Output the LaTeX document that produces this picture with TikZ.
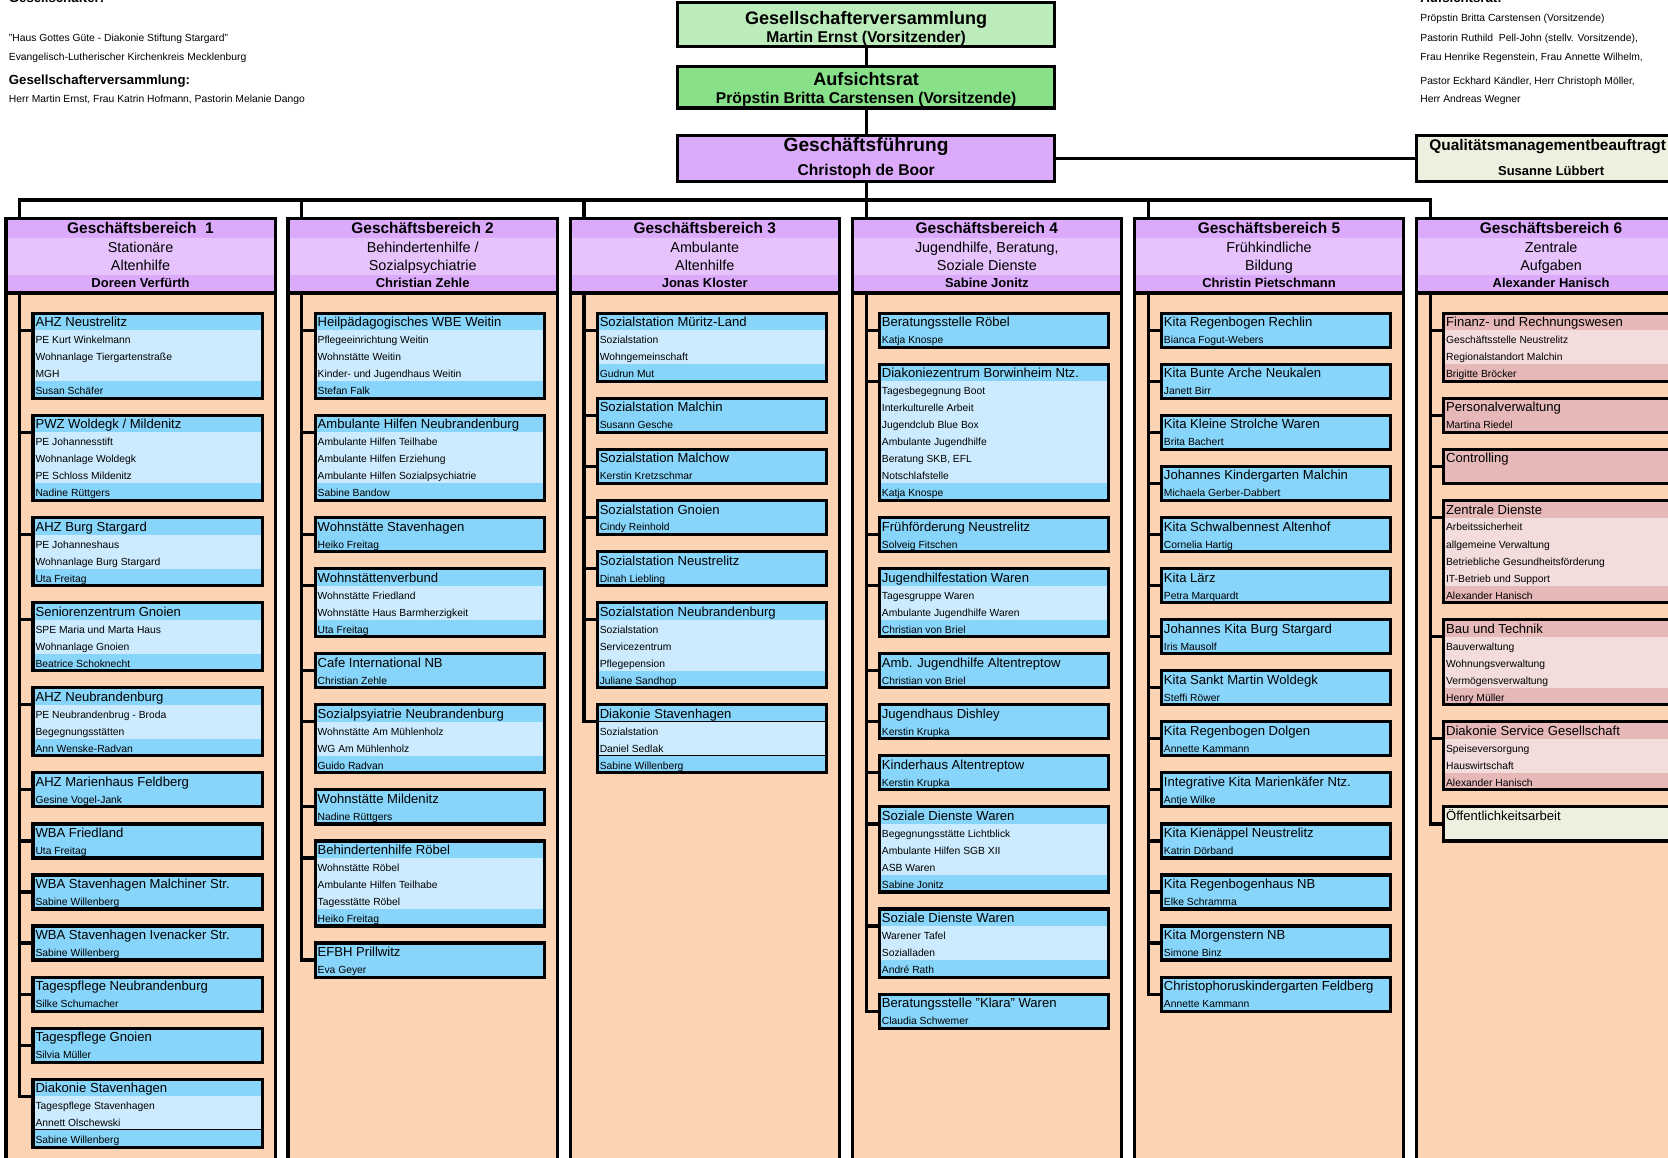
\documentclass[tikz,border=0pt]{standalone}
\usepackage{fontspec}
\setmainfont{Liberation Sans}

\definecolor{gvfill}{HTML}{BCECBC}
\definecolor{arfill}{HTML}{88E088}
\definecolor{gbdark}{HTML}{DCAAFA}
\definecolor{gblight}{HTML}{E6C3FC}
\definecolor{colbg}{HTML}{FCD4B4}
\definecolor{bldark}{HTML}{87D5FA}
\definecolor{bllight}{HTML}{CCEBFE}
\definecolor{pkdark}{HTML}{E6B8B8}
\definecolor{pklight}{HTML}{F2DCDC}
\definecolor{grdark}{HTML}{EBF1DE}
\definecolor{grlight}{HTML}{EBF1DE}

\tikzset{
  wire/.style={line width=3pt},
  sepline/.style={line width=0.8pt},
  box/.style={draw,rectangle,line width=3pt,inner sep=0pt,outer sep=0pt},
  lbl/.style={inner sep=0pt,outer sep=0pt},
  bigtitle/.style={lbl,font=\fontsize{17}{20}\selectfont\bfseries,text height=12.3pt,text depth=1.6pt},
  gftitle/.style={lbl,font=\fontsize{18}{21}\selectfont\bfseries,text height=13pt,text depth=1.7pt},
  bigname/.style={lbl,font=\fontsize{14.7}{17}\selectfont\bfseries,text height=10.6pt,text depth=1.4pt},
  gbtitle/.style={lbl,font=\fontsize{14.5}{17}\selectfont\bfseries,text height=10.5pt,text depth=1.4pt},
  gbline/.style={lbl,font=\fontsize{13.5}{16}\selectfont,text height=9.8pt,text depth=1.3pt},
  gbname/.style={lbl,font=\fontsize{12.2}{14}\selectfont\bfseries,text height=8.8pt,text depth=1.1pt},
  subtitle/.style={lbl,anchor=west,font=\fontsize{12.3}{14}\selectfont,text height=9pt,text depth=1.2pt},
  subrow/.style={lbl,anchor=west,font=\fontsize{9.7}{11}\selectfont,text height=7.2pt,text depth=0.9pt},
  toptxt/.style={lbl,anchor=west,font=\fontsize{9.7}{11}\selectfont,text height=7.2pt,text depth=0.9pt},
  tophead/.style={lbl,anchor=west,font=\fontsize{12.4}{14}\selectfont\bfseries,text height=9pt,text depth=1.2pt}
}

% column header: index, left x, title, line 1, line 2, name
\newcommand{\gbcol}[6]{%
  \fill[colbg] (#2,275.5) rectangle ({#2+253},1100);
  \fill[gbdark] (#2,205.5) rectangle ({#2+253},223.4);
  \fill[gblight] (#2,223.4) rectangle ({#2+253},258.5);
  \fill[gbdark] (#2,258.5) rectangle ({#2+253},275.5);
  \draw[wire] (#2,275.5) -- (#2,1100) ({#2+253},275.5) -- ({#2+253},1100);
  \node[box,minimum width=253pt,minimum height=70pt,anchor=north west] (g#1) at (#2,205.5) {};
  \node[gbtitle] (g#1-t) at ({#2+126.5},215.2) {#3};
  \node[gbline] (g#1-a) at ({#2+126.5},233.4) {#4};
  \node[gbline] (g#1-b) at ({#2+126.5},250) {#5};
  \node[gbname] (g#1-n) at ({#2+126.5},266.6) {#6};
}

% unit box: [colours] name, column x, top y, rows, title, row list
\newcommand{\ubox}[7][bl]{%
  \fill[#1light] ({#3+25.5},{#4}) rectangle ({#3+241},{#4+16*(#5+1)});
  \fill[#1dark] ({#3+25.5},{#4}) rectangle ({#3+241},{#4+16});
  \fill[#1dark] ({#3+25.5},{#4+16*#5}) rectangle ({#3+241},{#4+16*(#5+1)});
  \node[box,minimum width=215.5pt,minimum height=16*(#5+1),anchor=north west] (#2) at ({#3+25.5},{#4}) {};
  \node[subtitle] (#2-t) at ({#3+27.8},{#4+8.8}) {#6};
  \foreach \entry [count=\i] in {#7}
    \node[subrow] (#2-\i) at ({#3+27.8},{#4+9.5+16*\i}) {\entry};
  \coordinate (#2-s) at ({#3+25.5},{#4+16});
  \coordinate (#2-j) at ({#3+13},{#4+16});
  \draw[wire] (#2-s) -- (#2-j);
}

\begin{document}
\begin{tikzpicture}[x=1pt,y=-1pt,line join=miter]
\useasboundingbox (0,0) rectangle (1568,1087.7);
\clip (0,0) rectangle (1568,1087.7);

% owners and board, as text
\node[tophead,anchor=base west] (gs-h) at (8.4,2.3) {Gesellschafter:};
\node[toptxt] (gs-1) at (8.4,36) {"Haus Gottes Güte - Diakonie Stiftung Stargard"};
\node[toptxt] (gs-2) at (8.4,53.9) {Evangelisch-Lutherischer Kirchenkreis Mecklenburg};
\node[tophead] (gv-h) at (8.4,75.8) {Gesellschafterversammlung:};
\node[toptxt] (gv-1) at (8.4,93.4) {Herr Martin Ernst, Frau Katrin Hofmann, Pastorin Melanie Dango};
\node[tophead,anchor=base west] (ar-h) at (1335.2,2.3) {Aufsichtsrat:};
\node[toptxt] (ar-1) at (1335.2,17.2) {Pröpstin Britta Carstensen (Vorsitzende)};
\node[toptxt] (ar-2) at (1335.2,36) {Pastorin Ruthild\ \ Pell-John (stellv. Vorsitzende),};
\node[toptxt] (ar-3) at (1335.2,53.9) {Frau Henrike Regenstein, Frau Annette Wilhelm,};
\node[toptxt] (ar-4) at (1335.2,76.1) {Pastor Eckhard Kändler, Herr Christoph Möller,};
\node[toptxt] (ar-5) at (1335.2,93.3) {Herr Andreas Wegner};

% top of the chart
\node[box,fill=gvfill,minimum width=354.5pt,minimum height=41.4pt] (gv) at (814.2,23.3) {};
\node[bigtitle] (gv-t) at (814.2,17.9) {Gesellschafterversammlung};
\node[bigname] (gv-n) at (814.2,35) {Martin Ernst (Vorsitzender)};
\node[box,fill=arfill,minimum width=354.5pt,minimum height=39pt] (ar) at (814.2,82) {};
\node[bigtitle] (ar-t) at (814.2,74.6) {Aufsichtsrat};
\node[bigname] (ar-n) at (814.2,93) {Pröpstin Britta Carstensen (Vorsitzende)};
\node[box,fill=gbdark,minimum width=354.5pt,minimum height=43.5pt] (gf) at (814.2,148.8) {};
\node[gftitle] (gf-t) at (814.2,137.2) {Geschäftsführung};
\node[bigname] (gf-n) at (814.2,160.4) {Christoph de Boor};
\node[box,fill=grdark,minimum width=253pt,minimum height=43.5pt,anchor=west] (qm) at (1331.6,148.8) {};
\node[gbtitle,anchor=west] (qm-t) at (1343.7,137) {Qualitätsmanagementbeauftragt};
\node[gbname] (qm-n) at (1458.1,161.4) {Susanne Lübbert};
\draw[wire] (gv.south) -- (ar.north) (ar.south) -- (gf.north) (gf.east) -- (qm.west);

\coordinate (t1) at (18.6,188);
\coordinate (t2) at (283.8,188);
\coordinate (t3) at (549,188);
\coordinate (t4) at (814.2,188);
\coordinate (t5) at (1079.4,188);
\coordinate (t6) at (1344.6,188);

% Geschaeftsbereich 1
\gbcol{1}{5.6}{Geschäftsbereich~~1}{Stationäre}{Altenhilfe}{Doreen Verfürth}
\ubox{a1}{5.6}{294.5}{4}{AHZ Neustrelitz}{PE Kurt Winkelmann,Wohnanlage Tiergartenstraße,MGH,Susan Schäfer}
\ubox{a2}{5.6}{390.5}{4}{PWZ Woldegk / Mildenitz}{PE Johannesstift,Wohnanlage Woldegk,PE Schloss Mildenitz,Nadine Rüttgers}
\ubox{a3}{5.6}{486.5}{3}{AHZ Burg Stargard}{PE Johanneshaus,Wohnanlage Burg Stargard,Uta Freitag}
\ubox{a4}{5.6}{566.5}{3}{Seniorenzentrum Gnoien}{SPE Maria und Marta Haus,Wohnanlage Gnoien,Beatrice Schoknecht}
\ubox{a5}{5.6}{646.5}{3}{AHZ Neubrandenburg}{PE Neubrandenbrug - Broda,Begegnungsstätten,Ann Wenske-Radvan}
\ubox{a6}{5.6}{726.5}{1}{AHZ Marienhaus Feldberg}{Gesine Vogel-Jank}
\ubox{a7}{5.6}{774.5}{1}{WBA Friedland}{Uta Freitag}
\ubox{a8}{5.6}{822.5}{1}{WBA Stavenhagen Malchiner Str.}{Sabine Willenberg}
\ubox{a9}{5.6}{870.5}{1}{WBA Stavenhagen Ivenacker Str.}{Sabine Willenberg}
\ubox{a10}{5.6}{918.5}{1}{Tagespflege Neubrandenburg}{Silke Schumacher}
\ubox{a11}{5.6}{966.5}{1}{Tagespflege Gnoien}{Silvia Müller}
\ubox{a12}{5.6}{1014.5}{3}{Diakonie Stavenhagen}{Tagespflege Stavenhagen,Annett Olschewski,Sabine Willenberg}
\draw[sepline] ([yshift=-47pt]a12.north west) -- ([yshift=-47pt]a12.north east);
\draw[wire] (g1.south -| t1) -- (a12-j) -- (a12-s);

% Geschaeftsbereich 2
\gbcol{2}{270.8}{Geschäftsbereich 2}{Behindertenhilfe /}{Sozialpsychiatrie}{Christian Zehle}
\ubox{b1}{270.8}{294.5}{4}{Heilpädagogisches WBE Weitin}{Pflegeeinrichtung Weitin,Wohnstätte Weitin,Kinder- und Jugendhaus Weitin,Stefan Falk}
\ubox{b2}{270.8}{390.5}{4}{Ambulante Hilfen Neubrandenburg}{Ambulante Hilfen Teilhabe,Ambulante Hilfen Erziehung,Ambulante Hilfen Sozialpsychiatrie,Sabine Bandow}
\ubox{b3}{270.8}{486.5}{1}{Wohnstätte Stavenhagen}{Heiko Freitag}
\ubox{b4}{270.8}{534.5}{3}{Wohnstättenverbund}{Wohnstätte Friedland,Wohnstätte Haus Barmherzigkeit,Uta Freitag}
\ubox{b5}{270.8}{614.5}{1}{Cafe International NB}{Christian Zehle}
\ubox{b6}{270.8}{662.5}{3}{Sozialpsyiatrie Neubrandenburg}{Wohnstätte Am Mühlenholz,WG Am Mühlenholz,Guido Radvan}
\ubox{b7}{270.8}{742.5}{1}{Wohnstätte Mildenitz}{Nadine Rüttgers}
\ubox{b8}{270.8}{790.5}{4}{Behindertenhilfe Röbel}{Wohnstätte Röbel,Ambulante Hilfen Teilhabe,Tagesstätte Röbel,Heiko Freitag}
\ubox{b9}{270.8}{886.5}{1}{EFBH Prillwitz}{Eva Geyer}
\draw[wire] (g2.south -| t2) -- (b9-j) -- (b9-s);

% Geschaeftsbereich 3
\gbcol{3}{536}{Geschäftsbereich 3}{Ambulante}{Altenhilfe}{Jonas Kloster}
\ubox{c1}{536}{294.5}{3}{Sozialstation Müritz-Land}{Sozialstation,Wohngemeinschaft,Gudrun Mut}
\ubox{c2}{536}{374.5}{1}{Sozialstation Malchin}{Susann Gesche}
\ubox{c3}{536}{422.5}{1}{Sozialstation Malchow}{Kerstin Kretzschmar}
\ubox{c4}{536}{470.5}{1}{Sozialstation Gnoien}{Cindy Reinhold}
\ubox{c5}{536}{518.5}{1}{Sozialstation Neustrelitz}{Dinah Liebling}
\ubox{c6}{536}{566.5}{4}{Sozialstation Neubrandenburg}{Sozialstation,Servicezentrum,Pflegepension,Juliane Sandhop}
\ubox{c7}{536}{662.5}{3}{Diakonie Stavenhagen}{Sozialstation,Daniel Sedlak,Sabine Willenberg}
\draw[sepline] ([yshift=-16pt]c7.north west) -- ([yshift=-16pt]c7.north east)
  ([yshift=-48pt]c7.north west) -- ([yshift=-48pt]c7.north east);
\draw[wire] (g3.south -| t3) -- (c7-j) -- (c7-s);

% Geschaeftsbereich 4
\gbcol{4}{801.2}{Geschäftsbereich 4}{Jugendhilfe, Beratung,}{Soziale Dienste}{Sabine Jonitz}
\ubox{d1}{801.2}{294.5}{1}{Beratungsstelle Röbel}{Katja Knospe}
\ubox{d2}{801.2}{342.5}{7}{Diakoniezentrum Borwinheim Ntz.}{Tagesbegegnung Boot,Interkulturelle Arbeit,Jugendclub Blue Box,Ambulante Jugendhilfe,{Beratung SKB, EFL},Notschlafstelle,Katja Knospe}
\ubox{d3}{801.2}{486.5}{1}{Frühförderung Neustrelitz}{Solveig Fitschen}
\ubox{d4}{801.2}{534.5}{3}{Jugendhilfestation Waren}{Tagesgruppe Waren,Ambulante Jugendhilfe Waren,Christian von Briel}
\ubox{d5}{801.2}{614.5}{1}{Amb. Jugendhilfe Altentreptow}{Christian von Briel}
\ubox{d6}{801.2}{662.5}{1}{Jugendhaus Dishley}{Kerstin Krupka}
\ubox{d7}{801.2}{710.5}{1}{Kinderhaus Altentreptow}{Kerstin Krupka}
\ubox{d8}{801.2}{758.5}{4}{Soziale Dienste Waren}{Begegnungsstätte Lichtblick,Ambulante Hilfen SGB XII,ASB Waren,Sabine Jonitz}
\ubox{d9}{801.2}{854.5}{3}{Soziale Dienste Waren}{Warener Tafel,Sozialladen,André Rath}
\ubox{d10}{801.2}{934.5}{1}{Beratungsstelle "Klara" Waren}{Claudia Schwemer}
\draw[wire] (g4.south -| t4) -- (d10-j) -- (d10-s);

% Geschaeftsbereich 5
\gbcol{5}{1066.4}{Geschäftsbereich 5}{Frühkindliche}{Bildung}{Christin Pietschmann}
\foreach \ttl/\nm [count=\k from 0] in {Kita Regenbogen Rechlin/Bianca Fogut-Webers,
    Kita Bunte Arche Neukalen/Janett Birr,Kita Kleine Strolche Waren/Brita Bachert,
    Johannes Kindergarten Malchin/Michaela Gerber-Dabbert,Kita Schwalbennest Altenhof/Cornelia Hartig,
    Kita Lärz/Petra Marquardt,Johannes Kita Burg Stargard/Iris Mausolf,
    Kita Sankt Martin Woldegk/Steffi Röwer,Kita Regenbogen Dolgen/Annette Kammann,
    Integrative Kita Marienkäfer Ntz./Antje Wilke,Kita Kienäppel Neustrelitz/Katrin Dörband,
    Kita Regenbogenhaus NB/Elke Schramma,Kita Morgenstern NB/Simone Binz,
    Christophoruskindergarten Feldberg/Annette Kammann}
  {\ubox{e\k}{1066.4}{294.5+48*\k}{1}{\ttl}{\nm}}
\draw[wire] (g5.south -| t5) -- (e13-j) -- (e13-s);

% Geschaeftsbereich 6
\gbcol{6}{1331.6}{Geschäftsbereich 6}{Zentrale}{Aufgaben}{Alexander Hanisch}
\ubox[pk]{f1}{1331.6}{294.5}{3}{Finanz- und Rechnungswesen}{Geschäftsstelle Neustrelitz,Regionalstandort Malchin,Brigitte Bröcker}
\ubox[pk]{f2}{1331.6}{374.5}{1}{Personalverwaltung}{Martina Riedel}
\ubox[pk]{f3}{1331.6}{422.5}{1}{Controlling}{{}}
\ubox[pk]{f4}{1331.6}{470.5}{5}{Zentrale Dienste}{Arbeitssicherheit,allgemeine Verwaltung,Betriebliche Gesundheitsförderung,IT-Betrieb und Support,Alexander Hanisch}
\ubox[pk]{f5}{1331.6}{582.5}{4}{Bau und Technik}{Bauverwaltung,Wohnungsverwaltung,Vermögensverwaltung,Henry Müller}
\ubox[pk]{f6}{1331.6}{678.5}{3}{Diakonie Service Gesellschaft}{Speiseversorgung,Hauswirtschaft,Alexander Hanisch}
\ubox[gr]{f7}{1331.6}{758.5}{1}{Öffentlichkeitsarbeit}{{}}
\draw[wire] (g6.south -| t6) -- (f7-j) -- (f7-s);

% bus from the management down to the six divisions
\draw[wire] (t1 |- g1.north) -- (t1) -- (t6) -- (t6 |- g6.north);
\draw[wire] (t2) -- (t2 |- g2.north) (t3) -- (t3 |- g3.north) (t5) -- (t5 |- g5.north);
\draw[wire] (gf.south) -- (t4 |- g4.north);
\end{tikzpicture}
\end{document}
